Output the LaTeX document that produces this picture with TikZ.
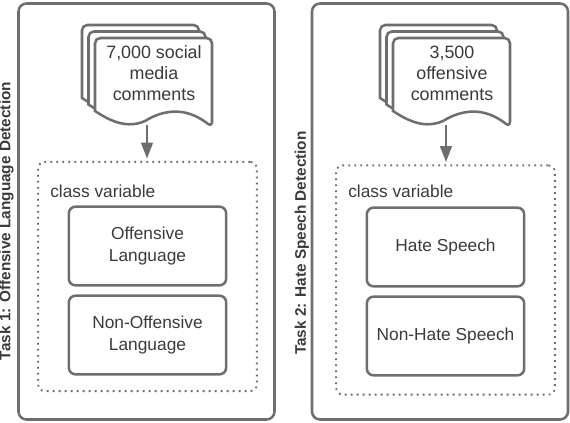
\documentclass[tikz,border=0pt]{standalone}
\usepackage{fontspec}
\setmainfont{Liberation Sans}
\usepackage{xcolor}
\usetikzlibrary{arrows.meta}
\definecolor{linegray}{HTML}{6E6E6E}
\definecolor{textgray}{HTML}{3A3A3A}
\tikzset{
  taskbox/.style={draw=linegray, line width=1.9pt, rounded corners=6pt, minimum width=192pt, minimum height=312pt, inner sep=0pt},
  classbox/.style={draw=linegray, line width=1.4pt, dash pattern=on 1.4pt off 3.1pt, rounded corners=5pt, minimum width=164pt, minimum height=172pt, inner sep=0pt},
  valuebox/.style={draw=linegray, line width=1.9pt, rounded corners=5pt, minimum width=118pt, minimum height=59pt, align=center, text=textgray, font=\fontsize{13}{16.7}\selectfont},
  labeltext/.style={text=textgray, inner sep=0pt, font=\fontsize{13}{15}\selectfont},
  tasktext/.style={text=textgray, rotate=90, font=\fontsize{11.5}{13}\selectfont\bfseries},
  doctext/.style={text=textgray, align=center, font=\fontsize{13.4}{15.7}\selectfont, minimum width=88pt, minimum height=66pt, inner sep=0pt},
  flow/.style={draw=linegray, line width=1.2pt, shorten >=1.8pt, -{Triangle[length=12pt,width=9pt]}},
  page/.style={draw=linegray, line width=1.9pt, fill=white, rounded corners=4pt}
}
% one page of the stack, x y is the top left corner
\newcommand{\docpage}[2]{%
  \draw[page] (#1,#2+73) -- (#1,#2) -- (#1+117,#2) -- (#1+117,#2+89)
    [sharp corners] .. controls (#1+90,#2+68) and (#1+68,#2+72) .. (#1+50,#2+83)
    .. controls (#1+32,#2+91) and (#1+15,#2+83) .. (#1,#2+73) -- cycle;%
}
\newcommand{\docstack}[2]{%
  \docpage{#1-13}{#2-13}\docpage{#1-6.5}{#2-6.5}\docpage{#1}{#2}%
}
\begin{document}
\begin{tikzpicture}[x=0.75pt,y=-0.75pt]
  \useasboundingbox (0,0) rectangle (570,422);
  \node[taskbox] (taskone) at (146.5,211.5) {};
  \node[taskbox] (tasktwo) at (440,211.5) {};
  \node[tasktext] (titleone) at (6.5,221) {Task 1: Offensive Language Detection};
  \node[tasktext] (titletwo) at (302,243) {Task 2: Hate Speech Detection};

  % left side
  \docstack{95}{38}
  \node[doctext] (docone) at (154,73) {7,000 social\\media\\comments};
  \coordinate (docendone) at (147,125);
  \node[classbox] (classone) at (147.5,276.5) {};
  \node[labeltext, anchor=west] (varone) at (50,191) {class variable};
  \node[valuebox] (offensive) at (147.5,246) {Offensive\\Language};
  \node[valuebox] (nonoffensive) at (147.5,335) {Non-Offensive\\Language};
  \draw[flow] (docendone) -- (docendone |- classone.north);

  % right side
  \docstack{393}{38}
  \node[doctext] (doctwo) at (452,73) {3,500\\offensive\\comments};
  \coordinate (docendtwo) at (446,125);
  \node[classbox] (classtwo) at (445.5,280) {};
  \node[labeltext, anchor=west] (vartwo) at (348,191) {class variable};
  \node[valuebox] (hate) at (445.5,247) {Hate Speech};
  \node[valuebox] (nonhate) at (445.5,336) {Non-Hate Speech};
  \draw[flow] (docendtwo) -- (docendtwo |- classtwo.north);
\end{tikzpicture}
\end{document}
